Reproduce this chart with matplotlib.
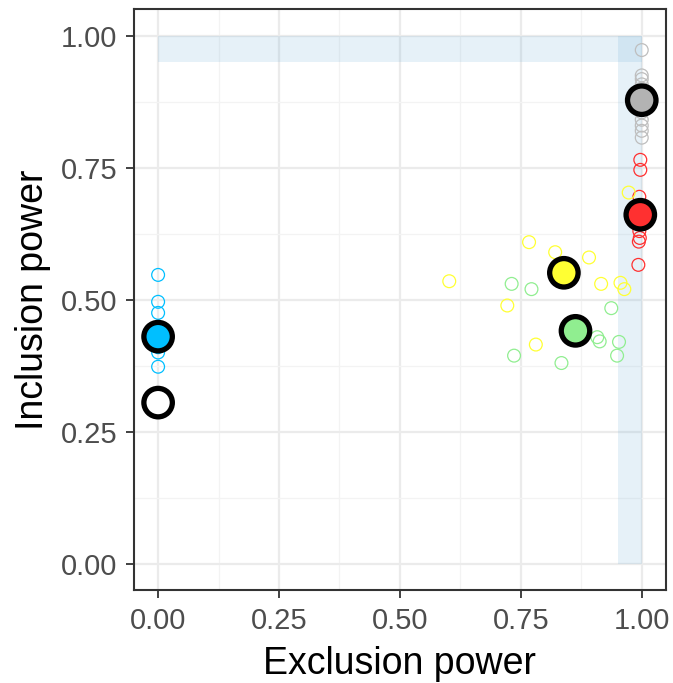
import matplotlib
matplotlib.use("Agg")
import matplotlib.pyplot as plt
from matplotlib.patches import Rectangle

plt.rcParams['font.family'] = ['Liberation Sans', 'DejaVu Sans']

# individual points per group
grey_x = [1.0, 1.0, 1.0, 1.0, 1.0, 1.0, 1.0, 1.0, 1.0, 1.0]
grey_y = [0.973, 0.925, 0.918, 0.908, 0.90, 0.855, 0.841, 0.83, 0.82, 0.807]
red_x = [0.997, 0.997, 0.995, 0.995, 0.996, 0.994, 0.993]
red_y = [0.765, 0.746, 0.695, 0.63, 0.617, 0.61, 0.566]
yellow_x = [0.602, 0.767, 0.821, 0.891, 0.916, 0.956, 0.964, 0.722, 0.781, 0.973]
yellow_y = [0.535, 0.609, 0.590, 0.580, 0.530, 0.532, 0.520, 0.489, 0.415, 0.703]
green_x = [0.731, 0.772, 0.937, 0.908, 0.913, 0.953, 0.949, 0.736, 0.834]
green_y = [0.530, 0.520, 0.484, 0.429, 0.421, 0.420, 0.394, 0.394, 0.380]
blue_x = [0.0, 0.0, 0.0, 0.0, 0.0, 0.0]
blue_y = [0.547, 0.496, 0.475, 0.41, 0.40, 0.373]

# group means
mean_x = [0.0, 0.0, 0.839, 0.863, 0.997, 1.0]
mean_y = [0.305, 0.43, 0.551, 0.441, 0.661, 0.878]
mean_colors = ['white', '#00BFFF', '#FFFF33', '#90EE90', '#FF3030', '#B3B3B3']

groups = [
    (grey_x, grey_y, '#BEBEBE'),
    (red_x, red_y, '#FF3030'),
    (yellow_x, yellow_y, '#FFFF33'),
    (green_x, green_y, '#90EE90'),
    (blue_x, blue_y, '#00BFFF'),
]

fig = plt.figure(figsize=(6.73, 6.83), dpi=100)
ax = fig.add_axes([0.199, 0.1362, 0.7905, 0.850])

# target zones
band = '#6BAED6'
ax.add_patch(Rectangle((0, 0.95), 1.0, 0.05, facecolor=band, alpha=0.17, linewidth=0, zorder=1))
ax.add_patch(Rectangle((0.95, 0), 0.05, 1.0, facecolor=band, alpha=0.17, linewidth=0, zorder=1))

for gx, gy, col in groups:
    ax.scatter(gx, gy, s=85, facecolors='none', edgecolors=col, linewidths=0.9, zorder=3)

ax.scatter(mean_x, mean_y, s=420, c=mean_colors, edgecolors='black', linewidths=3.8, zorder=4)

ax.set_xlim(-0.05, 1.05)
ax.set_ylim(-0.05, 1.05)
ticks = [0, 0.25, 0.5, 0.75, 1.0]
ax.set_xticks(ticks)
ax.set_yticks(ticks)
ax.set_xticklabels(['0.00', '0.25', '0.50', '0.75', '1.00'])
ax.set_yticklabels(['0.00', '0.25', '0.50', '0.75', '1.00'])
ax.set_xticks([0.125, 0.375, 0.625, 0.875], minor=True)
ax.set_yticks([0.125, 0.375, 0.625, 0.875], minor=True)
ax.grid(True, which='major', color='#EBEBEB', linewidth=1.6, zorder=0)
ax.grid(True, which='minor', color='#F3F3F3', linewidth=0.9, zorder=0)
ax.set_axisbelow(True)
ax.tick_params(which='minor', length=0)
ax.tick_params(which='major', length=6, width=1.3, color='#333333',
               labelsize=21, labelcolor='#4D4D4D', pad=6)
for sp in ax.spines.values():
    sp.set_color('#333333')
    sp.set_linewidth(1.5)

ax.set_xlabel('Exclusion power', fontsize=27, labelpad=8)
ax.set_ylabel('Inclusion power', fontsize=27, labelpad=7)

fig.savefig('out.png', dpi=100)
